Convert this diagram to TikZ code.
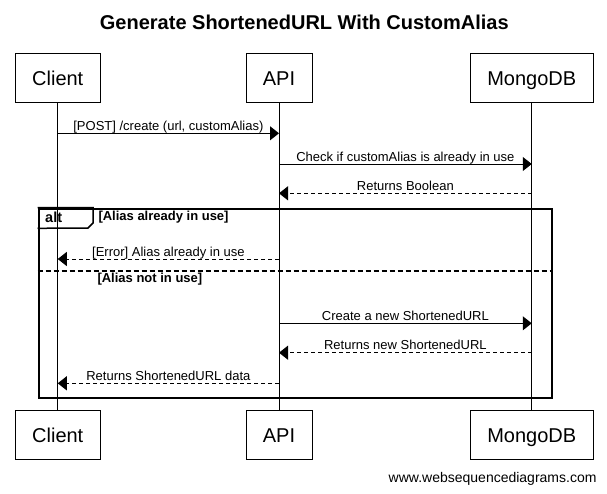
\documentclass[tikz,border=0pt]{standalone}
\usepackage{fontspec}
\setmainfont{Liberation Sans}
\usetikzlibrary{arrows.meta}
\begin{document}
\begin{tikzpicture}[x=1pt,y=-1pt,
  actor/.style={draw, line width=1pt, minimum width=#1, minimum height=49pt, inner sep=0pt,
    text height=14.3pt, text depth=0pt, font=\fontsize{20}{24}\selectfont},
  lifeline/.style={line width=1pt},
  msg/.style={line width=1pt, -{Triangle[length=9pt,width=14pt]}},
  ret/.style={msg, dash pattern=on 4pt off 3pt},
  lbl/.style={midway, anchor=base, yshift=2.8pt, inner sep=0pt, font=\fontsize{13}{15}\selectfont},
  guard/.style={anchor=base west, inner sep=0pt, font=\fontsize{13}{15}\selectfont\bfseries},
  frame/.style={draw, line width=2pt, inner sep=0pt, anchor=north west}
]
\useasboundingbox (0,0) rectangle (607,493);

% title
\node[anchor=base, inner sep=0pt, font=\fontsize{20}{24}\selectfont\bfseries] (title) at (304.3,29) {Generate ShortenedURL With CustomAlias};

% actors
\node[actor=85pt]  (ct) at (57.75,78) {Client};
\node[actor=66pt]  (at) at (279,78) {API};
\node[actor=122.5pt] (mt) at (531.75,78) {MongoDB};
\node[actor=85pt]  (cb) at (57.75,435) {Client};
\node[actor=66pt]  (ab) at (279,435) {API};
\node[actor=122.5pt] (mb) at (531.75,435) {MongoDB};

\draw[lifeline] (ct.south) -- (cb.north);
\draw[lifeline] (at.south) -- (ab.north);
\draw[lifeline] (mt.south) -- (mb.north);

% message anchor points
\coordinate (c1) at (57.75,133.3); \coordinate (a1) at (279,133.3);
\coordinate (a2) at (279,164);     \coordinate (m2) at (531.75,164);
\coordinate (a3) at (279,193.3);   \coordinate (m3) at (531.75,193.3);
\coordinate (c4) at (57.75,259);   \coordinate (a4) at (279,259);
\coordinate (a5) at (279,323.3);   \coordinate (m5) at (531.75,323.3);
\coordinate (a6) at (279,352.7);   \coordinate (m6) at (531.75,352.7);
\coordinate (c7) at (57.75,383.3); \coordinate (a7) at (279,383.3);

% alt frame
\node[frame, minimum width=513.5pt, minimum height=189.2pt] (alt) at (37.5,207.5) {};
\draw[line width=1.5pt] (alt.north west) -- ++(55.5,0) -- ++(0,15.5) -- ++(-5,5) -- (alt.west |- 0,228.3);
\node[anchor=base west, inner sep=0pt, font=\fontsize{14.5}{17}\selectfont\bfseries] (altlbl) at (45,222.5) {alt};
\node[guard] (g1) at (98.3,220) {[Alias already in use]};
\draw[line width=2pt, dash pattern=on 5pt off 3pt] (alt.west |- 0,271) -- (alt.east |- 0,271);
\node[guard] (g2) at (97.3,282.3) {[Alias not in use]};

% messages
\draw[msg] (c1) -- node[lbl] {[POST] /create (url, customAlias)} (a1);
\draw[msg] (a2) -- node[lbl] {Check if customAlias is already in use} (m2);
\draw[ret] (m3) -- node[lbl] {Returns Boolean} (a3);
\draw[ret] (a4) -- node[lbl] {[Error] Alias already in use} (c4);
\draw[msg] (a5) -- node[lbl] {Create a new ShortenedURL} (m5);
\draw[ret] (m6) -- node[lbl] {Returns new ShortenedURL} (a6);
\draw[ret] (a7) -- node[lbl] {Returns ShortenedURL data} (c7);

% footer
\node[anchor=base east, inner sep=0pt, font=\fontsize{14}{17}\selectfont] (wsd) at (596.7,482) {www.websequencediagrams.com};
\end{tikzpicture}
\end{document}
